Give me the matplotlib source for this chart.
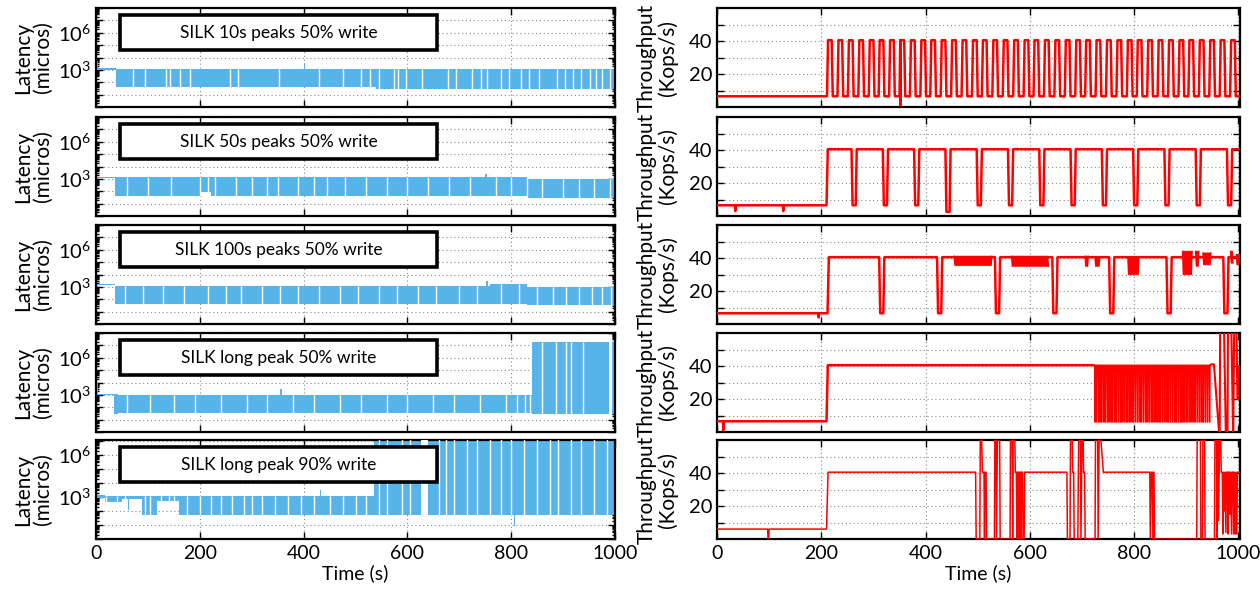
import matplotlib
matplotlib.use("Agg")
import matplotlib.pyplot as plt
from matplotlib.patches import Rectangle
from matplotlib.ticker import FixedLocator, FixedFormatter, LogLocator, NullFormatter

plt.rcParams['font.family'] = ['Lato', 'DejaVu Sans']
plt.rcParams['mathtext.fontset'] = 'custom'
plt.rcParams['mathtext.rm'] = 'Lato'
plt.rcParams['mathtext.it'] = 'Lato:italic'

BLUE = '#56B4E9'
RED = '#FF0000'

titles = ["SILK 10s peaks 50% write", "SILK 50s peaks 50% write",
          "SILK 100s peaks 50% write", "SILK long peak 50% write",
          "SILK long peak 90% write"]

x_ticks = [0, 200, 400, 600, 800, 1000]
lat_ylims = [(1, 1e8), (1, 1e8), (1, 1e8), (1, 1e8), (1, 1.2e7)]
tp_ticks = [10, 20, 30, 40, 50]
tp_labels = ['', '20', '', '40', '']

# ---------------- latency bands: (t_start, t_end, low, high) ----------------
lat1_seg = [(0, 38, 1000, 1300), (0, 3, 1000, 5200), (38, 540, 40, 1150),
            (540, 1000, 28, 1150), (400, 403, 1000, 3500)]
lat1_gaps = [72, 95, 134, 142, 161, 181, 259, 274, 352, 430, 476, 511, 527, 546,
             574, 581, 597, 628, 679, 694, 725, 741, 753, 780, 796, 819, 834,
             854, 889, 904, 920, 935, 951, 963, 975, 990]

lat2_seg = [(0, 36, 1100, 1500), (36, 200, 40, 1300), (200, 222, 90, 1300),
            (222, 830, 40, 1300), (830, 1000, 30, 900), (750, 753, 1000, 2500)]
lat2_gaps = [60, 100, 145, 200, 215, 230, 270, 300, 330, 350, 390, 420, 445,
             480, 520, 560, 600, 640, 680, 720, 770, 800, 830, 860, 900, 930,
             960, 990]

lat3_seg = [(0, 36, 1300, 1800), (36, 760, 45, 1200), (760, 830, 45, 1700),
            (830, 1000, 35, 900), (752, 755, 1000, 3000)]
lat3_gaps = [55, 90, 130, 170, 215, 250, 280, 320, 355, 390, 430, 470, 505,
             545, 580, 620, 655, 700, 735, 780, 815, 850, 880, 905, 930, 955,
             975, 992]

lat4_seg = [(0, 3, 1000, 10000), (0, 35, 900, 1200), (35, 42, 30, 1200),
            (42, 840, 35, 1000), (355, 358, 1000, 3000), (840, 1000, 30, 1.8e7)]
lat4_gaps = [60, 105, 150, 190, 240, 290, 330, 380, 420, 470, 510, 560, 600,
             650, 690, 740, 790, 812, 826, 836, 859, 887, 905, 915, 939]
lat4_wide_gaps = [(989, 995)]

lat5_seg = [(0, 17, 800, 1300), (17, 50, 450, 1250), (50, 88, 700, 1250),
            (62, 64, 120, 1250), (88, 118, 55, 1250), (118, 160, 500, 1250),
            (160, 535, 55, 1250), (431, 433, 1000, 3000), (535, 1000, 55, 5e7),
            (805, 807, 8, 100)]
lat5_gaps = [20, 40, 55, 95, 105, 125, 140, 150, 175, 200, 222, 240, 262, 285,
             300, 320, 345, 370, 395, 420, 450, 475, 500, 520, 545, 560, 590,
             605, 660, 675, 690, 715, 735, 760, 780, 800, 825, 850, 875, 890,
             915, 935, 960, 985]
lat5_wide_gaps = [(626, 640)]

lat_segs = [lat1_seg, lat2_seg, lat3_seg, lat4_seg, lat5_seg]
lat_gaps = [lat1_gaps, lat2_gaps, lat3_gaps, lat4_gaps, lat5_gaps]
lat_wide = [[], [], [], lat4_wide_gaps, lat5_wide_gaps]

# ---------------- throughput ----------------
tp_low = 6.5
tp_high = 40.5
# row 1: start times of the 10 s peaks
tp1_peaks = [211, 231, 251, 271, 291, 310, 330, 350, 370, 390, 409, 429, 449,
             469, 489, 508, 528, 548, 568, 588, 607, 627, 647, 667, 687, 706,
             726, 746, 766, 786, 805, 825, 845, 865, 885, 904, 924, 944, 964, 984]
tp1_dips = [(352, 1.0)]
# row 2: times of the 10 s drops between 50 s peaks (time, lowest value)
tp2_drops = [(258, 6.5), (318, 6.5), (378, 6.5), (438, 2.5), (498, 6.5),
             (558, 6.5), (618, 6.5), (678, 6.5), (738, 6.5), (798, 6.5),
             (858, 6.5), (918, 6.5), (978, 6.5)]
tp2_dips = [(35, 3.0), (127, 3.0)]
# row 3: drops between 100 s peaks
tp3_drops = [(311, 6.5), (422, 6.5), (533, 6.5), (643, 6.5), (752, 6.5),
             (862, 6.5), (971, 6.5)]
tp3_dips = [(195, 4.0)]
tp3_noise = [(455, 527, 35.5, 41), (565, 636, 35, 41), (706, 713, 35, 41),
             (725, 735, 35, 40.5), (788, 810, 30, 40.5), (893, 912, 30, 44),
             (918, 925, 35, 44), (932, 948, 36, 43), (985, 990, 37, 44),
             (996, 1003, 36, 42)]
# row 4: dips of the dense region and the final swings
tp4_dips = [(12, 1.0)]
tp4_dense = [724, 727, 731, 734, 737, 741, 744, 748, 751, 755, 758, 762, 765,
             769, 773, 776, 780, 784, 787, 791, 795, 798, 802, 806, 810, 813,
             817, 821, 824, 828, 832, 835, 839, 843, 847, 850, 854, 858, 862,
             865, 869, 873, 877, 880, 884, 888, 891, 895, 899, 902, 906, 910,
             914, 917, 921, 925, 929, 932, 936, 940, 944]
tp4_dense_low = 6.0
tp4_end = [(948, 41), (953, 41), (964, -5), (965, 70), (972, 70), (976, -5),
           (979, -5), (980, 70), (986, 70), (990, -5), (992, 70), (996, 70),
           (998, 20), (1000, 20), (1001, 40), (1003, 40)]
# row 5: explicit points
tp5_t = [0, 97, 98, 99, 100, 210, 213, 496, 497, 504, 505, 507, 509, 512, 513,
         514, 516, 517, 532, 533, 535, 536, 538, 542, 543, 562, 563, 566, 567,
         568, 571, 572, 574, 575, 576, 578, 579, 580, 582, 583, 584, 586, 587,
         589, 590, 671, 672, 677, 678, 681, 682, 684, 685, 692, 693, 694, 697,
         698, 700, 702, 703, 705, 706, 725, 726, 730, 731, 733, 735, 737, 741,
         830, 831, 833, 835, 836, 838, 839, 920, 921, 927, 928, 931, 932, 935,
         936, 954, 955, 958, 959, 960, 962, 964, 966, 967, 969, 970, 971, 973,
         974, 976, 977, 979, 980, 981, 983, 984, 985, 987, 988, 990, 991, 992,
         994, 995, 997, 998, 1003]
tp5_v = [6, 6, 0, 0, 6, 6, 40.5, 40.5, 0, 0, 66, 66, 40.5, 40.5, 0,
         40.5, 40.5, 0, 0, 66, 66, 0, 66, 66, 0, 0, 66, 66, 0,
         66, 66, 40.5, 40.5, 0, 40.5, 40.5, 0, 40.5, 40.5, 0, 40.5, 40.5, 0,
         0, 40.5, 40.5, 0, 0, 66, 66, 40.5, 40.5, 0, 0, 40.5, 66, 66,
         0, 66, 66, 40.5, 40.5, 0, 0, 66, 66, 0, 66, 66, 57, 40.5,
         40.5, 0, 40.5, 40.5, 0, 40.5, 0, 0, 66, 66, 0, 0, 66, 66,
         0, 0, 66, 66, 0, 66, 11, 66, 66, 40.5, 40.5, 3, 40.5, 17,
         40.5, 4, 40.5, 40.5, 3, 40.5, 40.5, 15, 40.5, 3, 40.5, 40.5, 3, 40.5,
         3, 40.5, 3, 40.5, 40.5]


def insert_dips(pts, dips):
    pts = sorted(pts)
    for dt, dv in dips:
        lv = [p[1] for p in pts if p[0] <= dt][-1]
        pts += [(dt - 0.6, lv), (dt, dv), (dt + 0.6, lv)]
    pts = sorted(pts)
    return [p[0] for p in pts], [p[1] for p in pts]


def square_from_peaks(peaks, dips, end=1003):
    pts = [(0, tp_low)]
    for s in peaks:
        pts += [(s, tp_low), (s + 2, tp_high), (s + 9, tp_high), (s + 11, tp_low)]
    pts.append((end, tp_low))
    return insert_dips(pts, dips)


def square_from_drops(drops, dips, start=210, end=1003):
    pts = [(0, tp_low), (start, tp_low), (start + 2.5, tp_high)]
    for d, lv in drops:
        pts += [(d, tp_high), (d + 2, lv), (d + 8, lv), (d + 10, tp_high)]
    pts.append((end, tp_high))
    return insert_dips(pts, dips)


# figure geometry (pixels)
W, H = 1260, 590
row_tops = [8, 117, 225, 333, 440]
row_h = 99
left_x0, left_x1 = 96, 615
right_x0, right_x1 = 717, 1240

fig = plt.figure(figsize=(W / 100, H / 100), dpi=100)


def style_axes(ax, bottom):
    for s in ax.spines.values():
        s.set_linewidth(1.6)
    ax.tick_params(which='both', direction='in', top=True, right=True,
                   labelsize=14.5, width=1.0)
    ax.tick_params(which='major', length=5)
    ax.tick_params(which='minor', length=2.5)
    ax.set_xticks(x_ticks)
    ax.grid(True, which='major', linestyle=(0, (1, 2.5)), color='#888888', lw=0.8)
    ax.set_axisbelow(True)
    if bottom:
        ax.set_xlabel('Time (s)', fontsize=14, labelpad=2)
        ax.tick_params(axis='x', labelsize=14, pad=4)
    else:
        ax.set_xticklabels([])


for i in range(5):
    bottom = (i == 4)
    yb = 1 - (row_tops[i] + row_h) / H
    # ---------- latency ----------
    ax = fig.add_axes([left_x0 / W, yb, (left_x1 - left_x0) / W, row_h / H])
    ax.set_yscale('log')
    ax.set_xlim(0, 1000)
    ax.set_ylim(*lat_ylims[i])
    for t0, t1, lo, hi in lat_segs[i]:
        ax.fill_between([t0, t1], [lo, lo], [hi, hi], color=BLUE, lw=0, zorder=2)
    for g in lat_gaps[i]:
        cov = [s for s in lat_segs[i] if s[0] <= g <= s[1]]
        if cov:
            ax.vlines(g, min(s[2] for s in cov), max(s[3] for s in cov),
                      colors='white', lw=1.0, zorder=3)
    for g0, g1 in lat_wide[i]:
        cov = [s for s in lat_segs[i] if s[0] <= g0 <= s[1]]
        ax.fill_between([g0, g1], [min(s[2] for s in cov)] * 2,
                        [max(s[3] for s in cov)] * 2, color='white', lw=0, zorder=3)
    ax.yaxis.set_major_locator(FixedLocator([10.0 ** k for k in range(0, 9)]))
    ax.yaxis.set_major_formatter(FixedFormatter(
        ['', '', '', r'$10^{3}$', '', '', r'$10^{6}$', '', '']))
    ax.yaxis.set_minor_locator(LogLocator(base=10, subs=range(2, 10), numticks=20))
    ax.yaxis.set_minor_formatter(NullFormatter())
    style_axes(ax, bottom)
    ax.set_ylabel('Latency\n(micros)', fontsize=15, linespacing=1.0)
    ax.yaxis.set_label_coords(-0.083, 0.5)
    ax.add_patch(Rectangle((0.046, 0.575), 0.611, 0.355, transform=ax.transAxes,
                           fc='white', ec='black', lw=2.6, zorder=6))
    ax.text(0.3515, 0.752, titles[i], transform=ax.transAxes, ha='center',
            va='center', fontsize=12.5, zorder=7)

    # ---------- throughput ----------
    ax2 = fig.add_axes([right_x0 / W, yb, (right_x1 - right_x0) / W, row_h / H])
    ax2.set_xlim(0, 1003)
    ax2.set_ylim(0, 60)
    lw = 1.8
    if i == 0:
        t, v = square_from_peaks(tp1_peaks, tp1_dips)
    elif i == 1:
        t, v = square_from_drops(tp2_drops, tp2_dips)
    elif i == 2:
        t, v = square_from_drops(tp3_drops, tp3_dips, start=212)
        for n0, n1, lo, hi in tp3_noise:
            nt, nv = [], []
            k = 0
            tt = n0
            while tt <= n1:
                nt.append(tt)
                nv.append(hi if k % 2 == 0 else lo)
                tt += 1.5
                k += 1
            ax2.plot(nt, nv, color=RED, lw=1.1, zorder=3)
    elif i == 3:
        pts = [(0, tp_low), (210, tp_low), (212.5, tp_high), (722, tp_high)]
        dt_, dv_ = [722], [tp_high]
        for d in tp4_dense:
            dt_ += [d, d + 0.5, d + 1.2, d + 1.7]
            dv_ += [tp_high, tp4_dense_low, tp4_dense_low, tp_high]
        ax2.plot(dt_, dv_, color=RED, lw=0.9, zorder=4)
        pts += [(946, tp_high)] + tp4_end
        pts = [p for p in pts]
        t, v = insert_dips(pts, tp4_dips)
        # break between 722 and 946 (drawn by dense line)
        idx = t.index(722)
        ax2.plot(t[:idx + 1], v[:idx + 1], color=RED, lw=1.8, zorder=4)
        t, v = t[idx + 1:], v[idx + 1:]
        lw = 1.5
    else:
        t, v = tp5_t, tp5_v
        lw = 1.1
    ax2.plot(t, v, color=RED, lw=lw, zorder=4, clip_on=True)
    ax2.yaxis.set_major_locator(FixedLocator(tp_ticks))
    ax2.yaxis.set_major_formatter(FixedFormatter(tp_labels))
    style_axes(ax2, bottom)
    ax2.set_ylabel('Throughput\n(Kops/s)', fontsize=15, linespacing=1.0)
    ax2.yaxis.set_label_coords(-0.075, 0.5)

fig.savefig('out.png', dpi=100)
